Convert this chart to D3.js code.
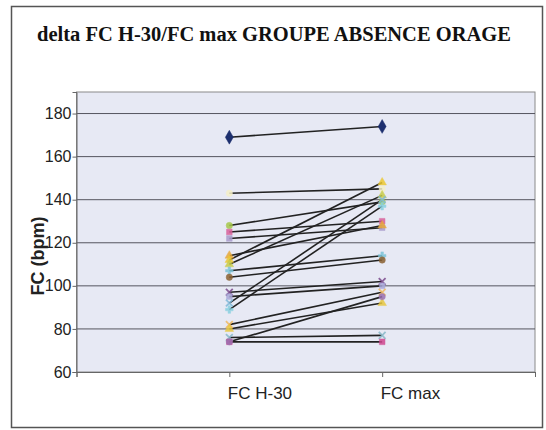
<!DOCTYPE html>
<html>
<head>
<meta charset="utf-8">
<script src="https://cdnjs.cloudflare.com/ajax/libs/d3/7.8.5/d3.min.js"></script>
<style>
  body { margin: 0; background: #fff; }
  svg { display: block; }
</style>
</head>
<body>
<svg id="chart" width="546" height="430"></svg>
<script>
// data
const categories = ['FC H-30', 'FC max'];
const fcH30 = [169, 143, 128, 125, 122, 114, 112, 110, 107, 104, 97, 95, 92, 89, 82, 80, 76, 74, 74];
const fcMax = [174, 145, 139, 130, 127, 128, 148, 142, 114, 112, 102, 100, 140, 137, 97, 92, 77, 74, 95];
const yTicks = [60, 80, 100, 120, 140, 160, 180];

// marker look per subject
const markerColors = ['#1d2f6e', '#f4efc8', '#a6c84a', '#d8609a', '#a99ccc', '#e8a838', '#ecc832', '#c8cc48',
  '#7cc4d8', '#8a6030', '#7a4a8c', '#a8a8d8', '#80b8d8', '#88d0e0', '#f0b860', '#e8c840', '#88b8c8', '#d04890', '#9a70b0'];
const markerShapes = [d3.symbolDiamond, d3.symbolCircle, d3.symbolCircle, d3.symbolSquare, d3.symbolSquare,
  d3.symbolTriangle, d3.symbolTriangle, d3.symbolTriangle, d3.symbolCross, d3.symbolCircle, d3.symbolX,
  d3.symbolSquare, d3.symbolX, d3.symbolCross, d3.symbolX, d3.symbolTriangle, d3.symbolX, d3.symbolSquare, d3.symbolCircle];

const svg = d3.select('#chart');

const plot = { left: 76.5, right: 535, top: 92, bottom: 372 };

// outer frame
svg.append('rect')
  .attr('x', 11.5).attr('y', 6.5)
  .attr('width', 531).attr('height', 421)
  .attr('fill', '#fff')
  .attr('stroke', '#555')
  .attr('stroke-width', 1.5);

svg.append('text')
  .attr('x', 274).attr('y', 41)
  .attr('text-anchor', 'middle')
  .attr('font-family', '"Liberation Serif", "Times New Roman", serif')
  .attr('font-weight', 'bold')
  .attr('font-size', 20.5)
  .attr('fill', '#111')
  .text('delta FC H-30/FC max GROUPE ABSENCE ORAGE');

const x = d3.scaleLinear().domain([0, 3]).range([plot.left, plot.right]);
const y = d3.scaleLinear().domain([60, 190]).range([plot.bottom, plot.top]);

svg.append('rect')
  .attr('x', plot.left).attr('y', plot.top)
  .attr('width', plot.right - plot.left).attr('height', plot.bottom - plot.top)
  .attr('fill', '#e7e9f4')
  .attr('stroke', '#8a8a8a')
  .attr('stroke-width', 1);

// gridlines
svg.append('g')
  .selectAll('line')
  .data(yTicks.filter(d => d > 60))
  .join('line')
  .attr('x1', plot.left).attr('x2', plot.right)
  .attr('y1', d => y(d)).attr('y2', d => y(d))
  .attr('stroke', '#55555f')
  .attr('stroke-width', 1);

// y axis
const yAxis = svg.append('g')
  .attr('transform', `translate(${plot.left},0)`)
  .call(d3.axisLeft(y).tickValues(yTicks).tickSize(4).tickPadding(1));
yAxis.select('.domain').attr('stroke', '#666');
yAxis.selectAll('.tick line').attr('stroke', '#666');
yAxis.selectAll('text')
  .attr('font-family', '"Liberation Sans", Arial, sans-serif')
  .attr('font-size', 16)
  .attr('fill', '#222');

// x axis
const xAxis = svg.append('g')
  .attr('transform', `translate(0,${plot.bottom})`)
  .call(d3.axisBottom(x).tickValues([0, 1, 2, 3]).tickSize(5).tickPadding(10)
    .tickFormat(d => categories[d - 1] || ''));
xAxis.select('.domain').attr('stroke', '#666');
xAxis.selectAll('.tick line').attr('stroke', '#666');
xAxis.selectAll('text')
  .attr('text-anchor', 'start')
  .attr('dx', -2)
  .attr('font-family', '"Liberation Sans", Arial, sans-serif')
  .attr('font-size', 17)
  .attr('fill', '#222');

svg.append('text')
  .attr('transform', 'translate(44,256) rotate(-90)')
  .attr('text-anchor', 'middle')
  .attr('font-family', '"Liberation Sans", Arial, sans-serif')
  .attr('font-weight', 'bold')
  .attr('font-size', 18)
  .attr('fill', '#222')
  .text('FC (bpm)');

// one line per subject
const subjects = fcH30.map((v, i) => ({ i, values: [v, fcMax[i]] }));

const line = d3.line()
  .x((d, k) => x(k + 1))
  .y(d => y(d));

const g = svg.append('g');
subjects.forEach(s => {
  g.append('path')
    .datum(s.values)
    .attr('fill', 'none')
    .attr('stroke', '#222')
    .attr('stroke-width', 1.6)
    .attr('d', line);
});

subjects.forEach(s => {
  const sym = d3.symbol().type(markerShapes[s.i]).size(s.i === 0 ? 55 : 32);
  const isLine = markerShapes[s.i] === d3.symbolX;
  g.selectAll(null)
    .data(s.values)
    .join('path')
    .attr('transform', (d, k) => `translate(${x(k + 1)},${y(d)})`)
    .attr('d', sym)
    .attr('fill', isLine ? 'none' : markerColors[s.i])
    .attr('stroke', markerColors[s.i])
    .attr('stroke-width', isLine ? 1.8 : 0.5)
    .attr('opacity', s.i === 0 ? 1 : 0.85);
});
</script>
</body>
</html>
